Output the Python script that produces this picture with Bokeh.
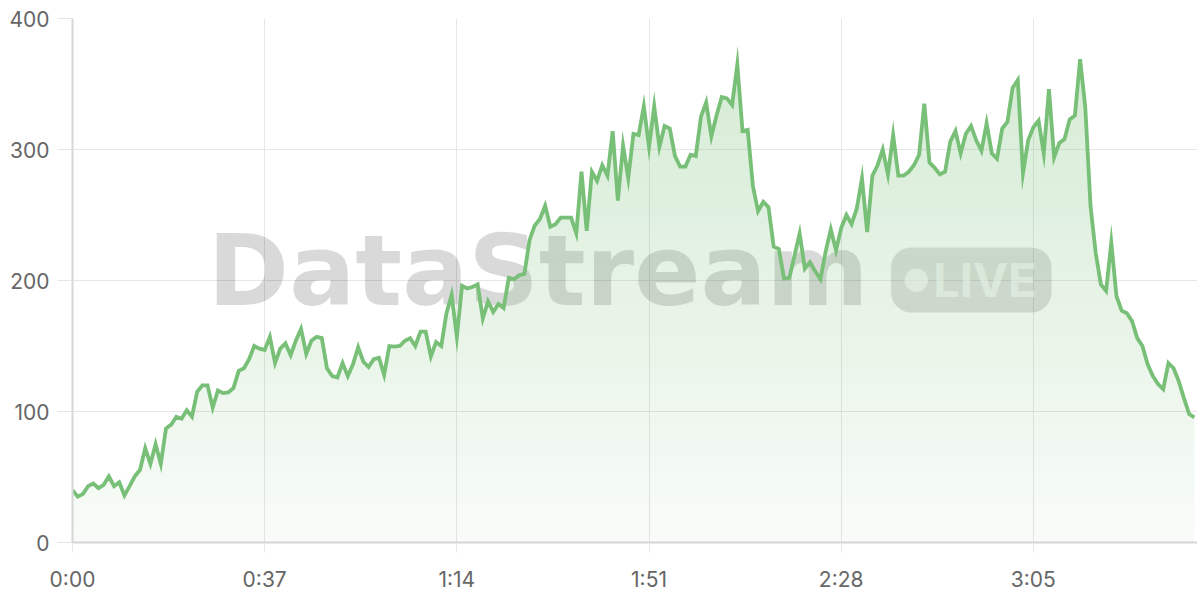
import numpy as np
from bokeh.plotting import figure
from bokeh.models import Range1d, FixedTicker, Label, BoxAnnotation
from bokeh.embed import file_html
from bokeh.resources import INLINE

# ---- data ----
seconds = list(range(217))
values = [
    40, 35, 37, 43, 45, 41.5, 44, 50.5, 43, 46,
    36, 43, 50.5, 55.5, 72, 60, 75, 60, 87, 90,
    96, 94.5, 101, 96, 115, 120, 120, 103, 116, 114,
    114.5, 118, 131, 133, 140, 150, 148, 147, 157, 137,
    148, 152, 143, 154, 163, 144, 154, 157, 156, 133,
    127, 126, 137, 127, 136, 149, 138, 134, 140, 141,
    128, 150, 149.5, 150, 154, 156, 150, 161, 161, 142,
    153, 150, 175, 189, 157, 196, 194, 195, 197, 171,
    184, 176, 182, 179, 202, 201, 204, 205, 231, 242,
    247, 257, 241, 243, 248, 248, 248, 236, 283, 238,
    283, 276, 288, 280, 314, 261, 303, 278, 312, 311,
    333, 302, 333, 302, 318, 316, 295, 287, 287, 296,
    295, 325, 336, 310, 326, 340, 339, 334, 365, 314,
    315, 272, 253, 260, 256, 226, 224, 201.5, 202, 219,
    236, 209, 214, 207, 201, 222, 239, 223, 240, 250,
    243, 255, 278, 237, 280, 288, 300, 281, 311, 280,
    280, 283, 288, 296, 335, 290, 286, 281, 283, 306,
    314, 297, 312, 318, 307, 299, 320, 297, 293, 316,
    321, 347, 353, 282, 307, 317, 322, 297, 346, 294,
    305, 308, 323, 326, 369, 332, 257, 221, 197, 192,
    229, 188, 177, 175, 169, 156, 150, 136, 127, 121,
    117, 137, 133, 123, 110, 98, 95.5,
]
tick_seconds = [0, 37, 74, 111, 148, 185]
tick_labels = ["0:00", "0:37", "1:14", "1:51", "2:28", "3:05"]
y_ticks = [0, 100, 200, 300, 400]

GREEN = "#78bf78"
FONT = "Inter"

p = figure(width=1197, height=598,
           x_range=Range1d(0, 216.6), y_range=Range1d(0, 400),
           output_backend="svg", toolbar_location=None,
           min_border_left=72, min_border_right=0,
           min_border_top=18, min_border_bottom=56)
p.outline_line_color = None
p.background_fill_color = "white"
p.border_fill_color = "white"

# axes
p.xaxis.ticker = FixedTicker(ticks=tick_seconds)
p.xaxis.major_label_overrides = {s: l for s, l in zip(tick_seconds, tick_labels)}
p.yaxis.ticker = FixedTicker(ticks=y_ticks)
p.xgrid.ticker = FixedTicker(ticks=tick_seconds)
p.ygrid.ticker = FixedTicker(ticks=y_ticks)
for ax in (p.xaxis, p.yaxis):
    ax.axis_line_color = "#d6d6d6"
    ax.axis_line_width = 2
    ax.major_tick_line_color = "#e6e6e6"
    ax.major_tick_line_width = 1
    ax.major_tick_in = 0
    ax.minor_tick_line_color = None
    ax.major_label_text_font = FONT
    ax.major_label_text_font_size = "21px"
    ax.major_label_text_color = "#666666"
p.xaxis.major_tick_out = 10
p.xaxis.major_label_standoff = 14
p.yaxis.major_tick_out = 15
p.yaxis.major_label_standoff = 8
p.xgrid.grid_line_color = "#e6e6e6"
p.ygrid.grid_line_color = "#e6e6e6"
p.xgrid.grid_line_width = 1
p.ygrid.grid_line_width = 1

# watermark
wm = Label(x=26.05, y=207.6, x_units="data", y_units="data",
           text="DataStream", text_font="DejaVu Sans", text_font_style="bold",
           text_font_size="98px", text_color="black", text_alpha=0.15,
           text_baseline="middle", text_align="left", level="underlay")
p.add_layout(wm)
badge = BoxAnnotation(left=157.6, right=188.5, bottom=175.6, top=225.2,
                      fill_color="black", fill_alpha=0.13, line_color=None,
                      border_radius=20, level="underlay")
p.add_layout(badge)
dot = BoxAnnotation(left=160.2, right=164.7, bottom=191.2, top=209.1,
                    fill_color="white", fill_alpha=0.65, line_color=None,
                    border_radius=12, level="underlay")
p.add_layout(dot)
live = Label(x=165.7, y=201.0, x_units="data", y_units="data",
             text="LIVE", text_font=FONT, text_font_style="bold",
             text_font_size="47px", text_color="white", text_alpha=0.65,
             text_baseline="middle", text_align="left", level="underlay")
p.add_layout(live)

# vertical gradient area fill: translucent bands, each blended once
v = np.array(values, dtype=float)
edges = np.linspace(0, 400, 41)
for lo, hi in zip(edges[:-1], edges[1:]):
    mid = 0.5 * (lo + hi)
    alpha = 0.05 + 0.28 * mid / 400.0
    p.varea(x=seconds, y1=np.minimum(v, lo), y2=np.minimum(v, hi),
            fill_color=GREEN, fill_alpha=alpha)

p.line(seconds, values, line_color=GREEN, line_width=3.8, line_join="miter")

open("out.html", "w").write(file_html(p, INLINE))
